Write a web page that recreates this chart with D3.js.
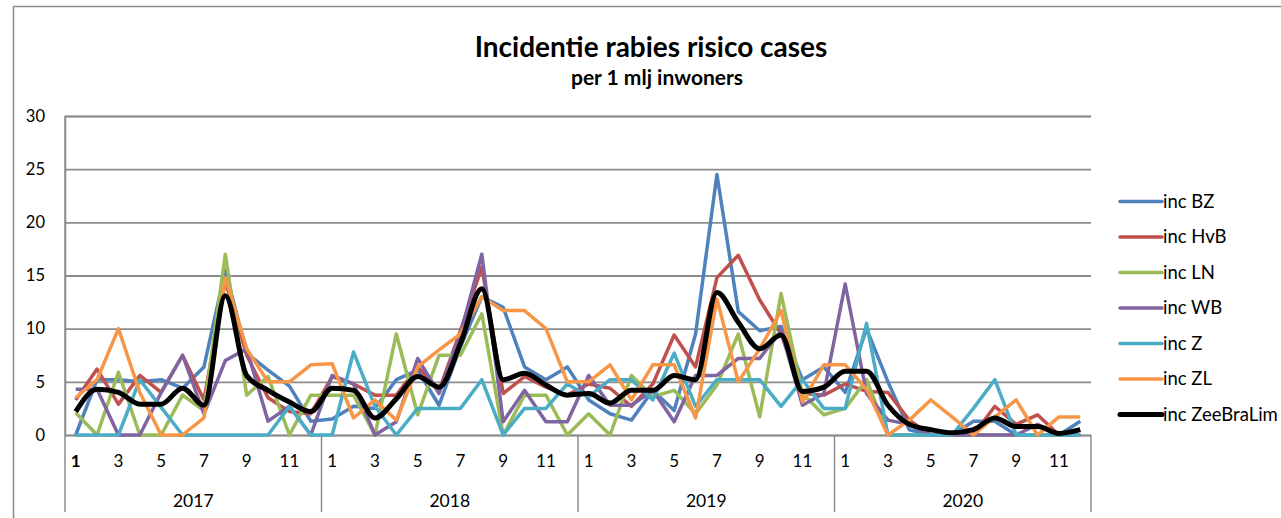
<!DOCTYPE html>
<html>
<head>
<meta charset="utf-8">
<script src="https://cdn.jsdelivr.net/npm/d3@7"></script>
<style>
body { margin: 0; background: #fff; }
text { font-family: Lato, "Open Sans", sans-serif; fill: #000; }
</style>
</head>
<body>
<svg id="chart" width="1281" height="518"></svg>
<script>
var years = ["2017", "2018", "2019", "2020"];
var month_ticks = [1, 3, 5, 7, 9, 11];
var y_ticks = [0, 5, 10, 15, 20, 25, 30];

var series_names = ["inc BZ", "inc HvB", "inc LN", "inc WB", "inc Z", "inc ZL", "inc ZeeBraLim"];
var series_colors = ["#4f81bd", "#c0504d", "#9bbb59", "#8064a2", "#4bacc6", "#f79646", "#000000"];

var inc_bz = [0, 5.2, 5.2, 5, 5.2, 4.4, 6.4, 15.5, 7.7, 6.1, 4.6, 1.3,
    1.5, 2.7, 2.5, 5.2, 6.1, 2.8, 8.3, 13.0, 12.0, 6.4, 5.2, 6.4,
    3.3, 2.0, 1.4, 4.2, 2.3, 9.5, 24.5, 11.6, 9.8, 10.2, 5.2, 6.4,
    4.0, 10.0, 5.0, 0.5, 0, 0, 1.3, 1.3, 0, 0, 0, 1.3];
var inc_hvb = [3.3, 6.2, 2.9, 5.6, 4.0, 7.5, 3.3, 14.5, 7.5, 3.5, 2.2, 2.0,
    5.5, 4.8, 3.75, 3.75, 6.4, 4.2, 9.8, 15.8, 3.9, 5.5, 4.5, 3.75,
    4.8, 4.4, 2.7, 4.8, 9.4, 6.4, 14.8, 16.9, 12.7, 9.5, 3.9, 3.75,
    4.8, 4.1, 4.0, 1.4, 0, 0, 0, 2.7, 1.0, 1.9, 0, 0];
var inc_ln = [2.1, 0, 5.9, 0, 0, 3.75, 2.3, 17.0, 3.75, 5.5, 0, 3.75,
    3.75, 3.75, 0, 9.5, 1.9, 7.5, 7.5, 11.4, 0, 3.75, 3.75, 0,
    2.0, 0, 5.6, 3.6, 4.2, 2.0, 4.7, 9.5, 1.7, 13.3, 3.9, 1.9,
    2.5, 5.2, 0, 0, 0, 0, 0, 0, 0, 0, 0, 0];
var inc_wb = [4.3, 4.3, 0, 0, 4.0, 7.5, 2.0, 7.0, 8.1, 1.3, 2.7, 0,
    5.6, 4.8, 0, 1.25, 7.2, 3.9, 9.5, 17.0, 1.25, 4.2, 1.25, 1.25,
    5.6, 2.8, 2.8, 4.2, 1.25, 5.6, 5.6, 7.2, 7.2, 9.8, 2.8, 3.9,
    14.2, 3.9, 1.4, 1.0, 0, 0, 0, 0, 0, 1.0, 0, 0];
var inc_z = [0, 0, 0, 5.2, 2.6, 0, 0, 0, 0, 0, 2.7, 0,
    0, 7.8, 2.7, 0, 2.5, 2.5, 2.5, 5.2, 0, 2.5, 2.5, 4.8,
    3.6, 5.2, 5.2, 3.3, 7.7, 2.7, 5.2, 5.2, 5.2, 2.7, 5.2, 2.5,
    2.5, 10.5, 0, 0, 0, 0, 2.5, 5.2, 0, 0, 0, 0];
var inc_zl = [3.5, 5.2, 10.0, 4.0, 0, 0, 1.6, 14.8, 8.1, 5.0, 5.0, 6.6,
    6.7, 1.6, 3.3, 1.4, 6.4, 8.0, 9.5, 13.0, 11.7, 11.7, 10.0, 5.0,
    5.0, 6.6, 3.3, 6.6, 6.6, 1.6, 12.8, 5.0, 8.1, 11.7, 3.1, 6.6,
    6.6, 4.3, 0, 1.4, 3.3, 1.7, 0, 1.7, 3.3, 0, 1.7, 1.7];
var inc_zeebralim = [2.2, 4.3, 4.0, 2.9, 2.9, 4.4, 2.8, 13.1, 5.6, 4.2, 3.1, 2.2,
    4.4, 4.2, 1.6, 3.4, 5.5, 4.5, 8.6, 13.75, 5.2, 5.8, 4.7, 3.75,
    3.9, 3.0, 4.2, 4.2, 5.6, 5.2, 13.4, 10.6, 8.1, 9.4, 4.1, 4.5,
    6.0, 6.0, 2.8, 1.0, 0.5, 0.2, 0.5, 1.6, 0.8, 0.8, 0.15, 0.5];

var all_series = [inc_bz, inc_hvb, inc_ln, inc_wb, inc_z, inc_zl, inc_zeebralim];

var svg = d3.select("#chart");
var grid_color = "#8c8c8c";

var plot_left = 65, plot_right = 1091, plot_top = 116, plot_bottom = 435;

// outer frame, only top and left edges visible
svg.append("path")
    .attr("d", "M13.5,520 L13.5,6.5 L1285,6.5")
    .attr("fill", "none")
    .attr("stroke", grid_color)
    .attr("stroke-width", 1.5);

var x = d3.scaleBand()
    .domain(d3.range(48))
    .range([plot_left, plot_right]);

var x_year = d3.scaleBand()
    .domain(years)
    .range([plot_left, plot_right]);

var y = d3.scaleLinear()
    .domain([0, 30])
    .range([plot_bottom, plot_top]);

// title
svg.append("text")
    .attr("x", 651)
    .attr("y", 57)
    .attr("text-anchor", "middle")
    .style("font-size", "28px")
    .style("font-weight", "bold")
    .text("Incidentie rabies risico cases");

svg.append("text")
    .attr("x", 657)
    .attr("y", 85)
    .attr("text-anchor", "middle")
    .style("font-size", "21px")
    .style("font-weight", "bold")
    .text("per 1 mlj inwoners");

// gridlines + y labels
var y_axis = d3.axisLeft(y)
    .tickValues(y_ticks)
    .tickSize(-(plot_right - plot_left))
    .tickPadding(20)
    .tickFormat(d3.format("d"));

svg.append("g")
    .attr("transform", "translate(" + plot_left + ",0)")
    .call(y_axis)
    .call(function(g) {
        g.select(".domain").attr("stroke", grid_color).attr("stroke-width", 1.5);
        g.selectAll(".tick line").attr("stroke", grid_color).attr("stroke-width", 1.8);
        g.selectAll(".tick text").style("font-size", "16.5px").attr("fill", "#000");
    });

// left axis line runs down to the bottom
svg.append("line")
    .attr("x1", plot_left).attr("x2", plot_left)
    .attr("y1", plot_top).attr("y2", 512)
    .attr("stroke", grid_color)
    .attr("stroke-width", 1.5);

// year separators
svg.selectAll(".year_sep")
    .data(years)
    .join("line")
    .attr("class", "year_sep")
    .attr("x1", function(d) { return x_year(d) + x_year.bandwidth(); })
    .attr("x2", function(d) { return x_year(d) + x_year.bandwidth(); })
    .attr("y1", plot_bottom)
    .attr("y2", 512)
    .attr("stroke", grid_color)
    .attr("stroke-width", 1.5);

// month labels
var month_labels = [];
years.forEach(function(yr, yi) {
    month_ticks.forEach(function(m) {
        month_labels.push({ idx: yi * 12 + m - 1, label: m, first: yi == 0 && m == 1 });
    });
});

svg.selectAll(".month_lab")
    .data(month_labels)
    .join("text")
    .attr("class", "month_lab")
    .attr("x", function(d) { return x(d.idx) + x.bandwidth() / 2; })
    .attr("y", 467)
    .attr("text-anchor", "middle")
    .style("font-size", "17px")
    .style("font-weight", function(d) { return d.first ? "bold" : "normal"; })
    .text(function(d) { return d.label; });

svg.selectAll(".year_lab")
    .data(years)
    .join("text")
    .attr("class", "year_lab")
    .attr("x", function(d) { return x_year(d) + x_year.bandwidth() / 2; })
    .attr("y", 507)
    .attr("text-anchor", "middle")
    .style("font-size", "17.5px")
    .text(function(d) { return d; });

// lines
var line = d3.line()
    .x(function(d, i) { return x(i) + x.bandwidth() / 2; })
    .y(function(d) { return y(d); });

var smooth_line = d3.line()
    .x(function(d, i) { return x(i) + x.bandwidth() / 2; })
    .y(function(d) { return y(d); })
    .curve(d3.curveMonotoneX);

svg.selectAll(".series")
    .data(all_series)
    .join("path")
    .attr("class", "series")
    .attr("fill", "none")
    .attr("stroke", function(d, i) { return series_colors[i]; })
    .attr("stroke-width", function(d, i) { return i == 6 ? 5 : 3.5; })
    .attr("stroke-linejoin", "round")
    .attr("d", function(d, i) { return i == 6 ? smooth_line(d) : line(d); });

// legend
var legend = svg.selectAll(".legend")
    .data(series_names)
    .join("g")
    .attr("class", "legend")
    .attr("transform", function(d, i) { return "translate(1120," + (201.5 + i * 35.5) + ")"; });

legend.append("line")
    .attr("x1", 0).attr("x2", 42)
    .attr("stroke", function(d, i) { return series_colors[i]; })
    .attr("stroke-width", function(d, i) { return i == 6 ? 5 : 3.5; })
    .attr("stroke-linecap", "round");

legend.append("text")
    .attr("x", 43)
    .attr("y", 6)
    .style("font-size", "18.5px")
    .text(function(d) { return d; });
</script>
</body>
</html>
